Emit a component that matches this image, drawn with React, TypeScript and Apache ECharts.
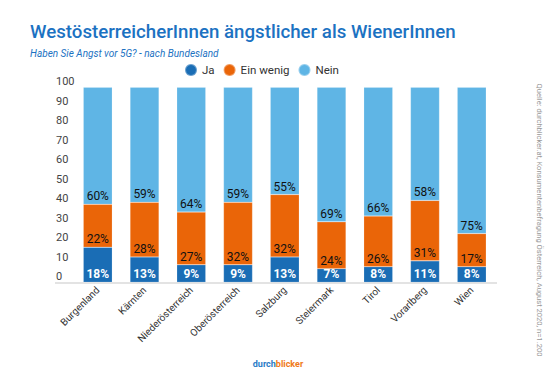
import React, { useEffect, useRef } from "react";
import * as echarts from "echarts";

const categories = ["Burgenland", "Kärnten", "Niederösterreich", "Oberösterreich", "Salzburg", "Steiermark", "Tirol", "Vorarlberg", "Wien"];
const ja = [18, 13, 9, 9, 13, 7, 8, 11, 8];
const einWenig = [22, 28, 27, 32, 32, 24, 26, 31, 17];
const nein = [60, 59, 64, 59, 55, 69, 66, 58, 75];
const yTicks = [0, 10, 20, 30, 40, 50, 60, 70, 80, 90, 100];

const FONT = "Roboto";
const C_JA = "#1a6db5";
const C_EW = "#ea6508";
const C_NEIN = "#5fb5e5";

export default function App() {
  const ref = useRef<HTMLDivElement>(null);
  useEffect(() => {
    const chart = echarts.init(ref.current!, null, { renderer: "svg" });
    const mkSeries = (name: string, data: number[], color: string, labelStyle: any) => ({
      name,
      type: "bar",
      stack: "total",
      data,
      barWidth: 29,
      itemStyle: { color, borderColor: "rgba(255,255,255,0.35)", borderWidth: 0.5 },
      label: {
        show: true,
        position: "insideBottom",
        distance: 2,
        formatter: "{c}%",
        fontFamily: FONT,
        ...labelStyle,
      },
    });
    chart.setOption({
      animation: false,
      textStyle: { fontFamily: FONT },
      title: [
        {
          text: "WestösterreicherInnen ängstlicher als WienerInnen",
          left: 25,
          top: 17,
          textStyle: { fontFamily: FONT, fontSize: 18.7, fontWeight: 500, color: "#1c72c2" },
        },
        {
          text: "Haben Sie Angst vor 5G? - nach Bundesland",
          left: 25,
          top: 43,
          textStyle: { fontFamily: FONT, fontSize: 10, fontStyle: "italic", fontWeight: "normal", color: "#1c72c2" },
        },
      ],
      legend: {
        left: 179,
        top: 58,
        icon: "circle",
        itemWidth: 12,
        itemHeight: 12,
        itemGap: 8,
        textStyle: { fontFamily: FONT, fontSize: 11.5, color: "#333" },
        data: ["Ja", "Ein wenig", "Nein"],
      },
      grid: { left: 74.4, right: 558 - 495.1, top: 87.3, bottom: 371 - 282.3, containLabel: false },
      xAxis: {
        type: "category",
        data: categories,
        axisLine: { show: false },
        axisTick: { show: false },
        axisLabel: { rotate: 45, fontSize: 10, color: "#333", fontFamily: FONT, margin: 6, interval: 0 },
      },
      yAxis: {
        type: "value",
        min: yTicks[0],
        max: yTicks[yTicks.length - 1],
        interval: 10,
        splitLine: { show: false },
        axisLine: { show: false },
        axisTick: { show: false },
        axisLabel: { align: "left", verticalAlign: "bottom", margin: 18.4, fontSize: 11, color: "#444", fontFamily: FONT },
      },
      graphic: [
        {
          type: "line",
          shape: { x1: 55, y1: 283, x2: 497, y2: 283 },
          style: { stroke: "#e3e3e3", lineWidth: 2 },
          z: 0,
        },
        {
          type: "text",
          x: 539,
          y: 220,
          rotation: -Math.PI / 2,
          style: {
            text: "Quelle: durchblicker.at, Konsumentenbefragung Österreich, August 2020, n=1.200",
            fontFamily: FONT,
            fontSize: 7.6,
            fill: "#999",
            align: "center",
            verticalAlign: "middle",
          },
        },
        {
          type: "text",
          x: 278,
          y: 364,
          style: {
            text: "{a|durch}{b|blicker}",
            align: "center",
            verticalAlign: "middle",
            rich: {
              a: { fontFamily: FONT, fontSize: 9, fontWeight: "bold", fill: "#2a7cc7" },
              b: { fontFamily: FONT, fontSize: 9, fontWeight: "bold", fill: "#f07a1a" },
            },
          },
        },
      ],
      series: [
        mkSeries("Ja", ja, C_JA, { color: "#fff", fontSize: 12, fontWeight: "bold" }),
        mkSeries("Ein wenig", einWenig, C_EW, { color: "#111", fontSize: 12 }),
        mkSeries("Nein", nein, C_NEIN, { color: "#111", fontSize: 12 }),
      ],
    });
    return () => chart.dispose();
  }, []);
  return <div ref={ref} style={{ position: "absolute", left: 0, top: 0, width: 558, height: 371 }} />;
}
